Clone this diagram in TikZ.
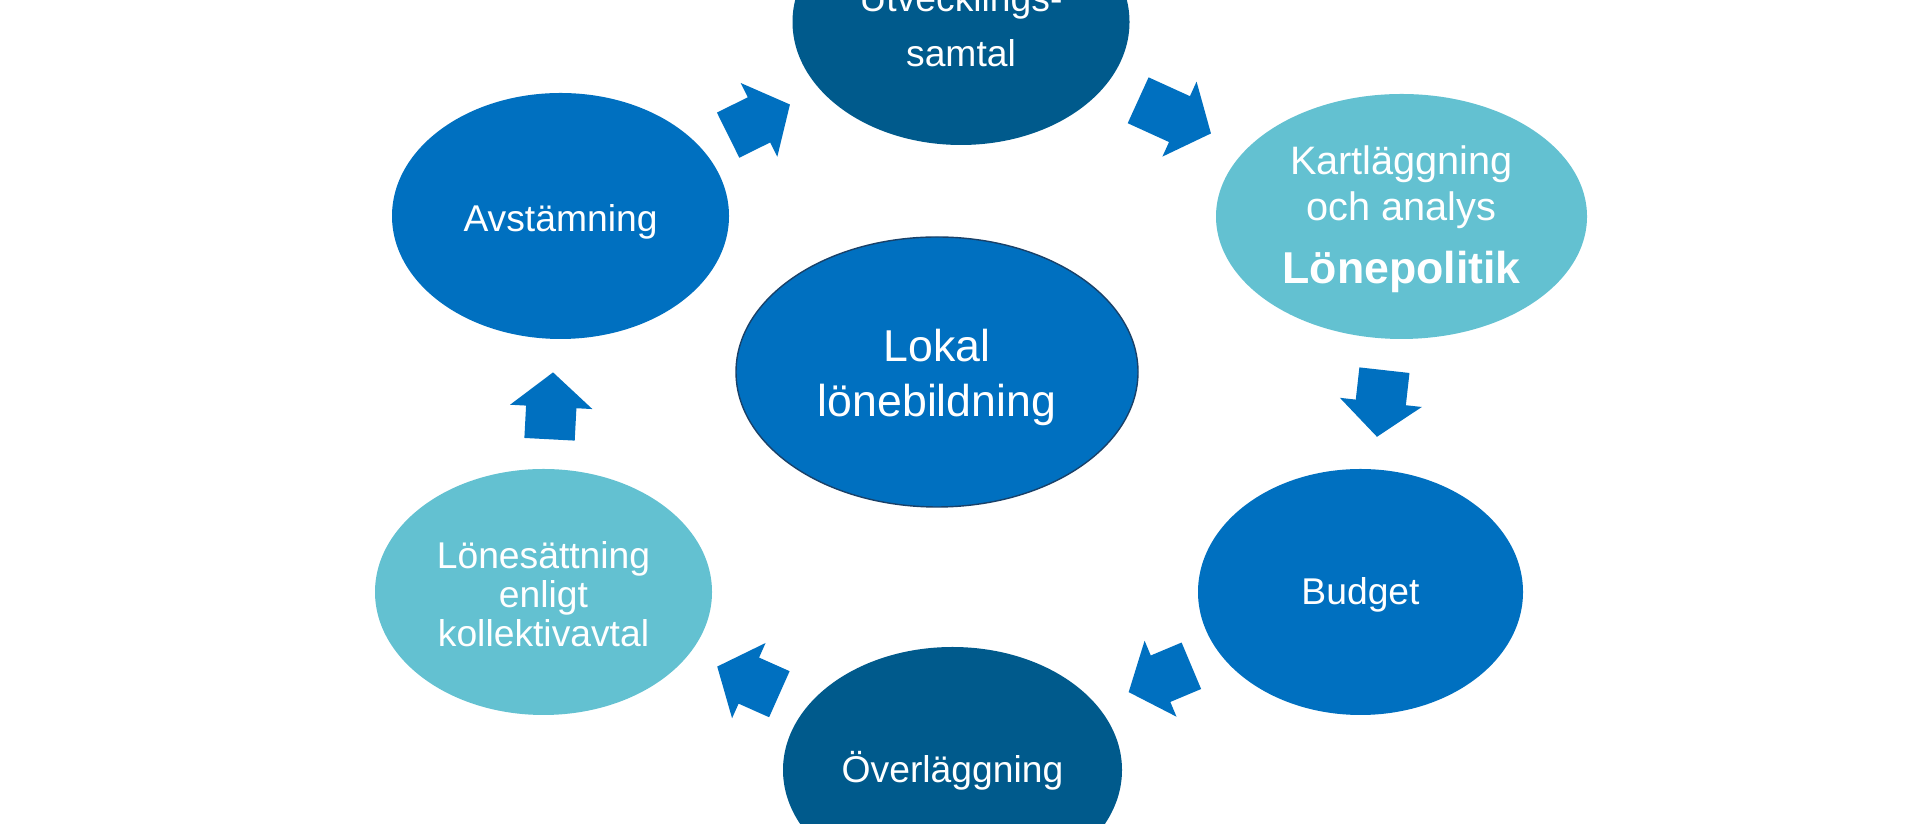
\documentclass[tikz,border=0pt]{standalone}
\usepackage{fontspec}
\setmainfont{Liberation Sans}
\usetikzlibrary{shapes.geometric,shapes.arrows}
\definecolor{lbdark}{RGB}{0,90,140}
\definecolor{lbblue}{RGB}{0,112,192}
\definecolor{lbteal}{RGB}{99,193,209}
\definecolor{lbedge}{RGB}{25,65,105}
\newcommand{\lbstrut}{\rule[-0.212em]{0pt}{1.117em}}
\newcommand{\lbtop}[1]{\rule{0pt}{#1}}

\begin{document}
\begin{tikzpicture}
  [every node/.style={ellipse,inner sep=0pt,text=white,align=center,
     minimum width=3.37cm,minimum height=2.46cm,
     font=\fontsize{10.6}{11.1}\selectfont},
   stage/.style={execute at begin node=\lbstrut,execute at end node=\lbstrut},
   dark/.style={stage,fill=lbdark},
   mid/.style={stage,fill=lbblue},
   light/.style={stage,fill=lbteal},
   blockarrow/.style={single arrow,fill=lbblue,minimum width=0pt,
     inner xsep=0pt,inner ysep=0.245cm,single arrow head extend=0.16cm,
     single arrow tip angle=100,anchor=tail}]
  \useasboundingbox[fill=white] (0,0) rectangle (19.2,-8.24);

  \node[dark,font=\fontsize{10.6}{15.6}\selectfont] (utv) at (9.61,-0.22) {\lbtop{11.8pt}Utvecklings-\\samtal};
  \node[light,minimum width=3.71cm,minimum height=2.45cm,
    font=\fontsize{11.3}{13.1}\selectfont] (kart) at (14.015,-2.165)
    {\lbtop{9.9pt}Kartläggning\\och analys\\[4.7pt]{\bfseries\fontsize{12.7}{15}\selectfont Lönepolitik}};
  \node[mid,minimum width=3.25cm] (budget) at (13.605,-5.92) {Budget};
  \node[dark,minimum width=3.39cm] (overl) at (9.525,-7.70) {Överläggning};
  \node[light] (lones) at (5.435,-5.92) {\lbtop{11pt}Lönesättning\\enligt\\kollektivavtal};
  \node[mid] (avst) at (5.605,-2.16) {\lbtop{10.8pt}Avstämning};
  \node[mid,draw=lbedge,line width=0.4pt,minimum width=4.02cm,minimum height=2.70cm,
    font=\fontsize{12.7}{15.6}\selectfont] (lokal) at (9.37,-3.72) {\lbtop{12.5pt}Lokal\\lönebildning};

  \foreach \name/\x/\y/\ang/\len in {a1/7.275/-1.355/26.4/0.69,a2/11.375/-1.00/-24.5/0.80,
      a3/13.845/-3.695/263.6/0.67,a4/11.92/-6.655/202.8/0.68,
      a5/7.80/-6.945/156/0.68,a6/5.495/-4.40/87/0.67}
    \node[blockarrow,rotate=\ang,minimum height=\len cm] (\name) at (\x,\y) {};

\end{tikzpicture}
\end{document}
